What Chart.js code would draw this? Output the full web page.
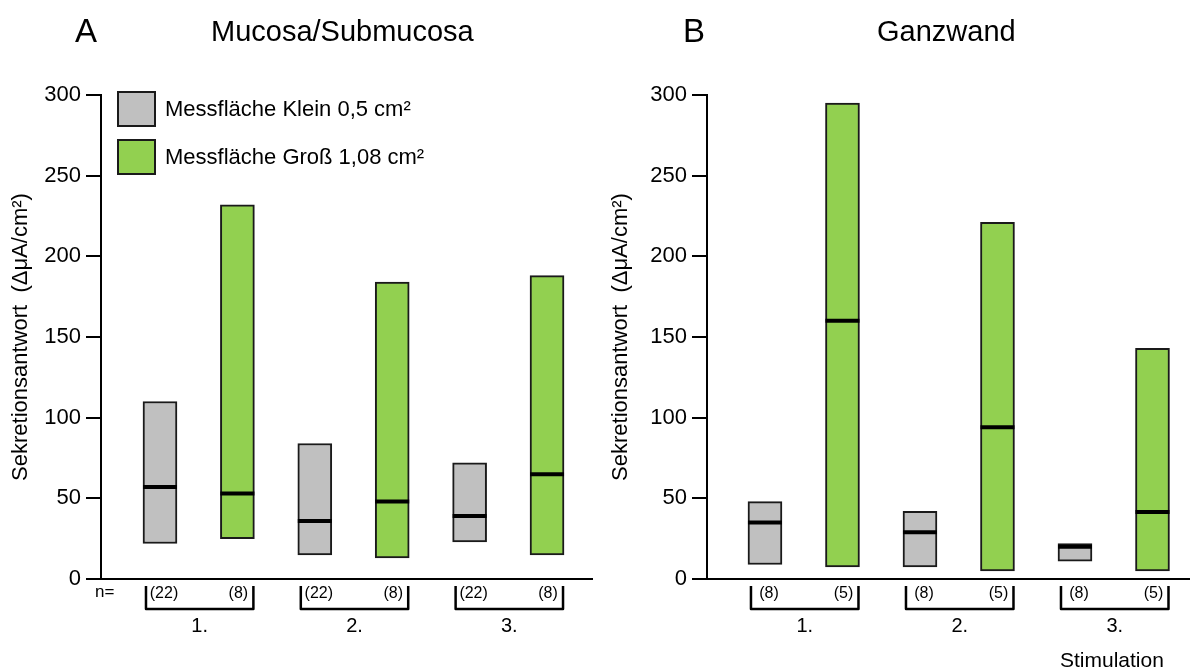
<!DOCTYPE html>
<html><head><meta charset="utf-8">
<script src="https://cdn.jsdelivr.net/npm/chart.js@4.4.1/dist/chart.umd.min.js"></script>
<style>
body{margin:0;background:#fff;width:1190px;height:670px;overflow:hidden;position:relative;font-family:"Liberation Sans",Arial,sans-serif;}
.t{position:absolute;line-height:1;white-space:nowrap;color:#000;}
canvas{position:absolute;top:0;}
</style></head><body>
<canvas id="ca" width="600" height="670" style="left:0"></canvas>
<canvas id="cb" width="590" height="670" style="left:600px"></canvas>
<div class="t" style="left:75px;top:14px;font-size:33px">A</div>
<div class="t" style="left:211px;top:17px;font-size:29px">Mucosa/Submucosa</div>
<div class="t" style="left:683px;top:14px;font-size:33px">B</div>
<div class="t" style="left:877px;top:17px;font-size:29px">Ganzwand</div>
<div class="t" style="left:1060px;top:649px;font-size:21px">Stimulation</div>
<script>
// ---- data ----
const groups = ['1.', '2.', '3.'];
const seriesNames = ['Messfläche Klein 0,5 cm²', 'Messfläche Groß 1,08 cm²'];
const yTicks = [0, 50, 100, 150, 200, 250, 300];

// Panel A: Mucosa/Submucosa
const nSmallA = ['(22)', '(22)', '(22)'];
const nLargeA = ['(8)', '(8)', '(8)'];
const smallLowA = [22, 15, 23];
const smallHighA = [110, 84, 72];
const smallMedA = [57, 36, 39];
const largeLowA = [25, 13, 15];
const largeHighA = [232, 184, 188];
const largeMedA = [53, 48, 65];

// Panel B: Ganzwand
const nSmallB = ['(8)', '(8)', '(8)'];
const nLargeB = ['(5)', '(5)', '(5)'];
const smallLowB = [9, 7.5, 11];
const smallHighB = [48, 42, 22];
const smallMedB = [35, 29, 20];
const largeLowB = [7.5, 5, 5];
const largeHighB = [295, 221, 143];
const largeMedB = [160, 94, 41.5];

const GRAY = '#c0c0c0', GREEN = '#92d050', EDGE = '#1a1a1a';
const FONT = '"Liberation Sans", Arial, sans-serif';

const boxLegend = {
  id: 'boxLegend',
  afterDraw(chart, args, opts) {
    if (!opts.show) return;
    const ctx = chart.ctx, ca = chart.chartArea;
    ctx.save();
    [0, 1].forEach((i) => {
      const d = chart.data.datasets[i];
      const y = ca.top - 3 + i * 48;
      ctx.fillStyle = d.backgroundColor;
      ctx.strokeStyle = d.borderColor;
      ctx.lineWidth = 2;
      ctx.fillRect(ca.left + 17, y, 37, 34);
      ctx.strokeRect(ca.left + 17, y, 37, 34);
      ctx.fillStyle = '#000';
      ctx.font = '22px ' + FONT;
      ctx.textBaseline = 'middle';
      ctx.textAlign = 'left';
      ctx.fillText(d.label, ca.left + 64, y + 18);
    });
    ctx.restore();
  }
};

const brackets = {
  id: 'brackets',
  afterDraw(chart, args, opts) {
    const ctx = chart.ctx, xs = chart.scales.x, bottom = chart.chartArea.bottom;
    ctx.save();
    ctx.fillStyle = '#000';
    ctx.strokeStyle = '#000';
    ctx.textBaseline = 'middle';
    if (opts.showN) {
      ctx.font = '17px ' + FONT;
      ctx.textAlign = 'left';
      ctx.fillText('n=', chart.chartArea.left - 6, bottom + 13);
    }
    groups.forEach((g, i) => {
      const x1 = xs.getPixelForValue(2 * i + 1), x2 = xs.getPixelForValue(2 * i + 2);
      const L = x1 - 14, R = x2 + 16, top = bottom + 7, bot = bottom + 30;
      ctx.lineWidth = 2.5;
      ctx.lineJoin = 'round';
      ctx.beginPath();
      ctx.moveTo(L, top); ctx.lineTo(L, bot); ctx.lineTo(R, bot); ctx.lineTo(R, top);
      ctx.stroke();
      ctx.font = '16px ' + FONT;
      ctx.textAlign = 'center';
      ctx.fillText(opts.nSmall[i], x1 + 4, bottom + 15);
      ctx.fillText(opts.nLarge[i], x2 + 1, bottom + 15);
      ctx.font = '20px ' + FONT;
      ctx.fillText(g, (L + R) / 2, bottom + 47);
    });
    ctx.restore();
  }
};

function makeChart(id, p) {
  const pos = (i, k) => 2 * i + 1 + k;
  const ds = [
    { type: 'bar', label: seriesNames[0], backgroundColor: GRAY, borderColor: EDGE, borderWidth: 2,
      borderSkipped: false, barThickness: 34, grouped: false, order: 2,
      data: p.sLow.map((v, i) => ({ x: pos(i, 0), y: [v, p.sHigh[i]] })) },
    { type: 'bar', label: seriesNames[1], backgroundColor: GREEN, borderColor: EDGE, borderWidth: 2,
      borderSkipped: false, barThickness: 34, grouped: false, order: 2,
      data: p.lLow.map((v, i) => ({ x: pos(i, 1), y: [v, p.lHigh[i]] })) },
    { type: 'line', label: 'Median', showLine: false, order: 0, clip: false,
      pointStyle: 'line', pointRadius: 17, pointBorderWidth: 4, pointBorderColor: '#000', borderColor: '#000',
      data: p.sMed.map((v, i) => ({ x: pos(i, 0), y: v })).concat(p.lMed.map((v, i) => ({ x: pos(i, 1), y: v }))) }
  ];
  return new Chart(document.getElementById(id), {
    type: 'bar',
    data: { datasets: ds },
    plugins: [boxLegend, brackets],
    options: {
      responsive: false, animation: false, events: [],
      layout: { autoPadding: false, padding: { top: 95, bottom: 91, left: 0, right: p.padRight } },
      plugins: {
        legend: { display: false }, tooltip: { enabled: false },
        boxLegend: { show: p.legend },
        brackets: { nSmall: p.nSmall, nLarge: p.nLarge, showN: p.showN }
      },
      scales: {
        x: {
          type: 'linear', min: p.xmin, max: p.xmax, offset: false,
          ticks: { display: false },
          grid: { display: false, drawTicks: false },
          border: { display: true, color: '#000', width: 2 },
          afterFit: (s) => { s.height = 0; }
        },
        y: {
          min: 0, max: 300,
          afterBuildTicks: (s) => { s.ticks = yTicks.map(v => ({ value: v })); },
          ticks: { color: '#000', font: { family: FONT, size: 22 }, padding: 5 },
          grid: { drawOnChartArea: false, drawTicks: true, tickLength: 15, color: '#000', lineWidth: 2 },
          border: { display: true, color: '#000', width: 2 },
          title: { display: true, text: 'Sekretionsantwort  (ΔμA/cm²)', color: '#000',
                   font: { family: FONT, size: 22 }, padding: { top: 8, bottom: 0 } },
          afterFit: (s) => { s.width = p.yWidth; }
        }
      }
    }
  });
}

makeChart('ca', { sLow: smallLowA, sHigh: smallHighA, sMed: smallMedA, lLow: largeLowA, lHigh: largeHighA, lMed: largeMedA,
  nSmall: nSmallA, nLarge: nLargeA, xmin: 0.238, xmax: 6.581, yWidth: 101, padRight: 8, legend: true, showN: true });
makeChart('cb', { sLow: smallLowB, sHigh: smallHighB, sMed: smallMedB, lLow: largeLowB, lHigh: largeHighB, lMed: largeMedB,
  nSmall: nSmallB, nLarge: nLargeB, xmin: 0.252, xmax: 6.484, yWidth: 107, padRight: 0, legend: false, showN: false });
</script>
</body></html>
